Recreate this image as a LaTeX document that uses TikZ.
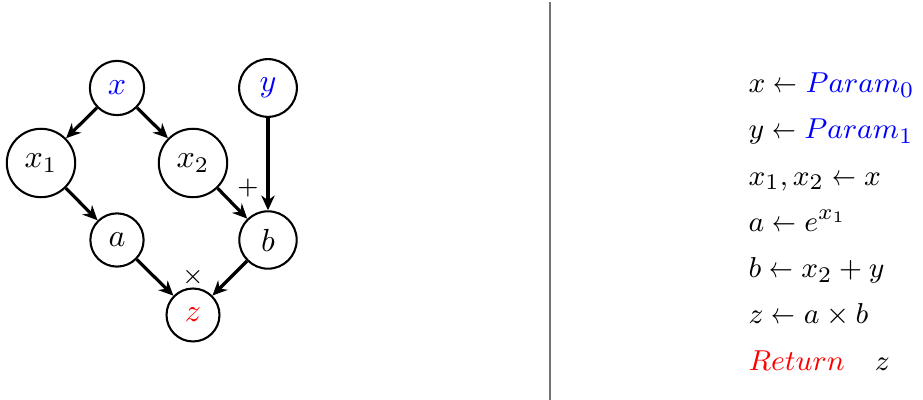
\documentclass[tikz,border=0pt]{standalone}
\usepackage{graphicx}
\usetikzlibrary{arrows.meta}
\newcommand{\larr}{\mathrel{\scalebox{0.8}[1]{$\leftarrow$}}}
\begin{document}
\begin{tikzpicture}[x=0.3125pt,y=-0.3125pt,
  vnode/.style={circle,draw,line width=0.65pt,inner sep=3.5pt},
  edge/.style={line width=1pt,-{Stealth[length=4.6pt,width=4.2pt]}},
  oplabel/.style={font=\footnotesize,inner sep=0pt},
  codeline/.style={anchor=base west,inner sep=0pt,font=\fontsize{9.4}{11}\selectfont}]
\useasboundingbox (0,0) rectangle (923,400);
% graph
\node[vnode] (x) at (117,88) {$\color{blue}x$};
\node[vnode] (y) at (268,88) {$\color{blue}y$};
\node[vnode] (x1) at (41,163) {$x_1$};
\node[vnode] (x2) at (193,163) {$x_2$};
\node[vnode] (a) at (117,240) {$a$};
\node[vnode] (b) at (268,240) {$b$};
\node[vnode] (z) at (193,315) {$\color{red}z$};
\draw[edge] (x) -- (x1);
\draw[edge] (x) -- (x2);
\draw[edge] (x1) -- (a);
\draw[edge] (x2) -- (b);
\draw[edge] (y) -- (b);
\draw[edge] (a) -- (z);
\draw[edge] (b) -- (z);
\node[oplabel] (plus) at (248,188) {$+$};
\node[oplabel] (times) at (193,277) {$\times$};
% separator
\coordinate (s1) at (550,2);
\coordinate (s2) at (550,400);
\draw[line width=0.5pt,black!55] (s1) -- (s2);
% code
\node[codeline] (l1) at (748,92.5) {$x \larr {\color{blue}Param_0}$};
\node[codeline] (l2) at (748,139) {$y \larr {\color{blue}Param_1}$};
\node[codeline] (l3) at (748,185.3) {$x_1, x_2 \larr x$};
\node[codeline] (l4) at (748,231.6) {$a \larr e^{x_1}$};
\node[codeline] (l5) at (748,278) {$b \larr x_2 + y$};
\node[codeline] (l6) at (748,324) {$z \larr a \times b$};
\node[codeline] (l7) at (748,370.6) {${\color{red}Return} \quad z$};
\end{tikzpicture}
\end{document}
